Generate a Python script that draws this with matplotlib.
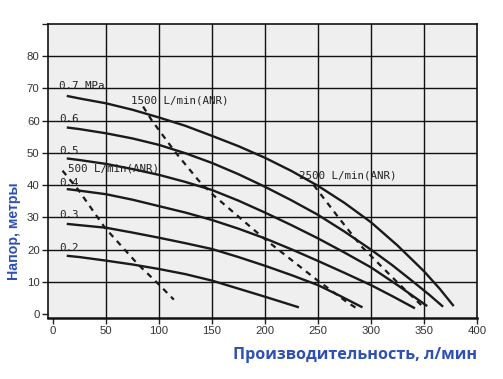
import matplotlib
matplotlib.use("Agg")
import matplotlib.pyplot as plt

# Pressure curves (flow l/min, head m)
p07_x = [13, 25, 50, 75, 100, 125, 150, 175, 200, 225, 250, 275, 300, 325, 350, 365, 378]
p07_y = [67.7, 66.9, 65.4, 63.4, 61.0, 58.4, 55.3, 52.1, 48.5, 44.4, 39.8, 34.5, 28.5, 21.3, 13.3, 7.8, 2.5]
p06_x = [13, 25, 50, 75, 100, 125, 150, 175, 200, 225, 250, 275, 300, 320, 340, 355, 368]
p06_y = [57.9, 57.4, 56.1, 54.5, 52.5, 49.9, 46.9, 43.4, 39.5, 35.3, 30.8, 25.6, 20.0, 15.2, 10.0, 6.0, 2.3]
p05_x = [13, 25, 50, 75, 100, 125, 150, 175, 200, 225, 250, 275, 300, 325, 353]
p05_y = [48.3, 47.8, 46.6, 45.0, 43.2, 41.0, 38.5, 35.2, 31.5, 27.6, 23.5, 19.1, 14.5, 9.0, 2.5]
p04_x = [13, 25, 50, 75, 100, 125, 150, 175, 200, 225, 250, 275, 300, 320, 341.5]
p04_y = [38.8, 38.3, 37.2, 35.5, 33.5, 31.5, 29.2, 26.5, 23.5, 20.1, 16.5, 12.8, 9.0, 5.6, 1.8]
p03_x = [13, 25, 50, 75, 100, 125, 150, 175, 200, 225, 250, 270, 292]
p03_y = [28.0, 27.6, 26.8, 25.3, 23.7, 22.0, 20.2, 17.7, 15.0, 12.1, 9.0, 5.8, 2.1]
p02_x = [13, 25, 50, 75, 100, 125, 150, 175, 200, 232]
p02_y = [18.1, 17.7, 16.6, 15.4, 14.0, 12.4, 10.4, 7.9, 5.4, 2.1]

pressure_labels = ["0.7 MPa", "0.6", "0.5", "0.4", "0.3", "0.2"]
pressure_label_y = [70, 60, 50, 40, 30, 20]

# Air consumption (dashed) lines
a500_x = [9, 24, 49, 80, 99, 114]
a500_y = [44.5, 38.5, 26.8, 15.5, 9.5, 4.5]
a1500_x = [85, 93, 115, 137, 151, 199, 249, 277, 286.5]
a1500_y = [64.4, 60.2, 50.4, 41.6, 37.0, 23.5, 10.6, 3.8, 1.8]
a2500_x = [246, 270, 291, 326, 349]
a2500_y = [40.0, 29.7, 21.0, 9.5, 2.3]

air_labels = ["500 L/min(ANR)", "1500 L/min(ANR)", "2500 L/min(ANR)"]
air_label_pos = [(14.5, 44.2), (74, 65.2), (232.4, 42.1)]

x_ticks = [0, 50, 100, 150, 200, 250, 300, 350, 400]
y_ticks = [0, 10, 20, 30, 40, 50, 60, 70, 80, 90]
y_tick_labels = ["0", "10", "20", "30", "40", "50", "60", "70", "80", ""]

x_label = "Производительность, л/мин"
y_label = "Напор, метры"

fig = plt.figure(figsize=(5.03, 3.79), dpi=100)
ax = fig.add_axes([48/503, 1-318/379, (477-48)/503, (318-24)/379])
ax.set_facecolor("#efefef")
ax.set_xlim(-4.7, 400)
ax.set_ylim(-1.2, 90)

for v in x_ticks[1:-1]:
    ax.axvline(v, color="#111111", lw=1.0, zorder=1)
for v in y_ticks[1:-1]:
    ax.axhline(v, color="#111111", lw=1.0, zorder=1)

curves = [(p07_x, p07_y), (p06_x, p06_y), (p05_x, p05_y),
          (p04_x, p04_y), (p03_x, p03_y), (p02_x, p02_y)]
for cx, cy in curves:
    ax.plot(cx, cy, color="#1a1a1a", lw=1.7, solid_capstyle="butt",
            solid_joinstyle="round", zorder=3)

for cx, cy in [(a500_x, a500_y), (a1500_x, a1500_y), (a2500_x, a2500_y)]:
    ax.plot(cx, cy, color="#1a1a1a", lw=1.6, dashes=(2.6, 2.4), zorder=3)

mono = "DejaVu Sans Mono"
for lab, yy in zip(pressure_labels, pressure_label_y):
    ax.text(5.7, yy - 0.3, lab, fontsize=7.8, family=mono, color="#222222",
            va="baseline", ha="left", zorder=4)
for lab, (xx, yy) in zip(air_labels, air_label_pos):
    ax.text(xx, yy, lab, fontsize=7.8, family=mono, color="#222222",
            va="baseline", ha="left", zorder=4)

ax.set_xticks(x_ticks)
ax.set_yticks(y_ticks)
ax.set_yticklabels(y_tick_labels)
ax.tick_params(direction="out", length=4, width=1.0, color="#222222",
               labelsize=8.2, labelcolor="#333333", pad=2)
for lbl in ax.get_xticklabels() + ax.get_yticklabels():
    lbl.set_family("Liberation Sans")

for side in ["left", "top", "right"]:
    ax.spines[side].set_linewidth(1.2)
    ax.spines[side].set_color("#111111")
ax.spines["bottom"].set_linewidth(1.8)
ax.spines["bottom"].set_color("#111111")

fig.text(355/503, 1-355/379, x_label, ha="center", va="center",
         fontsize=11.6, fontweight="bold", color="#2e4fb3", family="Open Sans")
fig.text(14/503, 1-231/379, y_label, ha="center", va="center", rotation=90,
         fontsize=10.2, fontweight="bold", color="#2e4fb3", family="Liberation Sans")

fig.savefig("out.png", dpi=100)
